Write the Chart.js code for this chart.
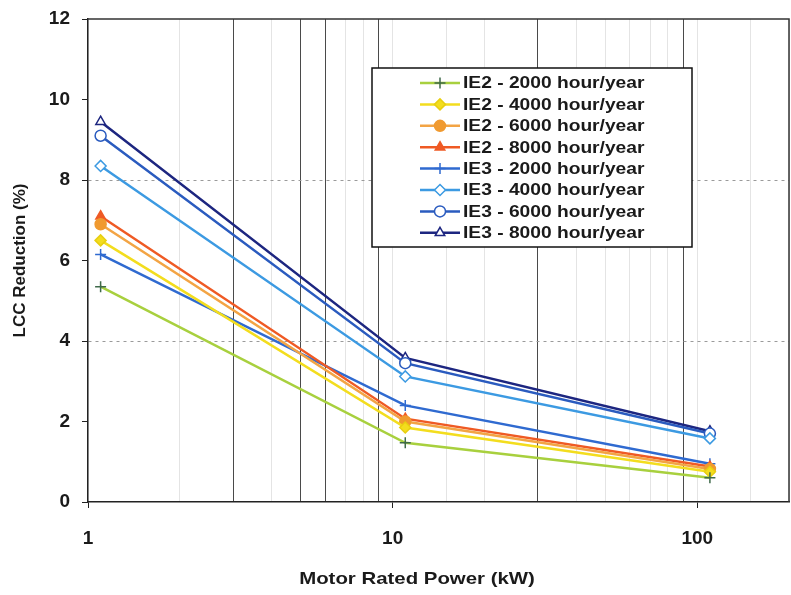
<!DOCTYPE html>
<html lang="en">
<head>
  <meta charset="UTF-8">
  <title>LCC Reduction vs Motor Rated Power</title>
  <style>
    body {
      margin: 0;
      background: #ffffff;
    }
    #chart-box {
      width: 791px;
      height: 595px;
    }
  </style>
  <script src="https://cdn.jsdelivr.net/npm/chart.js"></script>
</head>
<body>
  <div id="chart-box">
    <canvas id="lccChart" width="791" height="595"></canvas>
  </div>
  <script>
    // rated power of the three motor sizes (kW)
    const ratedPower = [1.1, 11, 110];

    const seriesLabels = [
      'IE2 - 2000 hour/year',
      'IE2 - 4000 hour/year',
      'IE2 - 6000 hour/year',
      'IE2 - 8000 hour/year',
      'IE3 - 2000 hour/year',
      'IE3 - 4000 hour/year',
      'IE3 - 6000 hour/year',
      'IE3 - 8000 hour/year'
    ];

    // LCC reduction (%) per motor size
    const ie2_2000 = [5.35, 1.47, 0.6];
    const ie2_4000 = [6.5, 1.85, 0.75];
    const ie2_6000 = [6.9, 2.0, 0.82];
    const ie2_8000 = [7.1, 2.07, 0.88];
    const ie3_2000 = [6.15, 2.4, 0.95];
    const ie3_4000 = [8.35, 3.12, 1.58];
    const ie3_6000 = [9.1, 3.45, 1.7];
    const ie3_8000 = [9.45, 3.58, 1.76];

    const xTickLabels = [1, 10, 100];
    const yTickStep = 2;
    const yDottedLines = [4, 8];
    const xDarkLines = [3, 5, 6, 9, 30, 90];

    const seriesValues = [ie2_2000, ie2_4000, ie2_6000, ie2_8000, ie3_2000, ie3_4000, ie3_6000, ie3_8000];

    // look of each series
    const lineColors = ['#a8d03e', '#f3dd1e', '#f3a444', '#ef5a24', '#2f6ad0', '#3c9ae2', '#2a5bbf', '#1d2680'];
    const markerShapes = ['cross', 'rectRot', 'circle', 'triangle', 'cross', 'rectRot', 'circle', 'triangle'];
    const markerFills = ['#a8d03e', '#f3dd1e', '#f09a30', '#ef5a24', '#2f6ad0', '#ffffff', '#ffffff', '#ffffff'];
    const markerEdges = ['#3f6a4a', '#e8cf10', '#f09a30', '#ef5a24', '#2f6ad0', '#3c9ae2', '#2a5bbf', '#1d2680'];

    const FONT = 'Liberation Sans';
    Chart.defaults.font.family = FONT;

    const datasets = seriesValues.map((vals, i) => ({
      label: seriesLabels[i],
      data: ratedPower.map((p, j) => ({ x: p, y: vals[j] })),
      borderColor: lineColors[i],
      borderWidth: 2.5,
      pointStyle: markerShapes[i],
      pointRadius: 5.5,
      pointBorderWidth: 1.5,
      pointBackgroundColor: markerFills[i],
      pointBorderColor: markerEdges[i],
      tension: 0,
      fill: false
    }));

    // box legend sitting inside the plot, plus frame and x title
    const legendBox = { left: 372, top: 68, right: 692, bottom: 247 };

    const extras = {
      id: 'extras',
      beforeDatasetsDraw(chart) {
        const { ctx, chartArea: a } = chart;
        ctx.save();
        ctx.strokeStyle = '#333';
        ctx.lineWidth = 1.5;
        ctx.beginPath();
        ctx.moveTo(a.left, a.top);
        ctx.lineTo(a.right, a.top);
        ctx.lineTo(a.right, a.bottom);
        ctx.stroke();
        ctx.restore();
      },
      afterDraw(chart) {
        const { ctx } = chart;
        ctx.save();

        ctx.fillStyle = '#fff';
        ctx.fillRect(legendBox.left, legendBox.top, legendBox.right - legendBox.left, legendBox.bottom - legendBox.top);
        ctx.strokeStyle = '#111';
        ctx.lineWidth = 1.5;
        ctx.strokeRect(legendBox.left, legendBox.top, legendBox.right - legendBox.left, legendBox.bottom - legendBox.top);

        chart.data.datasets.forEach((ds, i) => {
          const y = 83 + i * 21.4;
          ctx.strokeStyle = ds.borderColor;
          ctx.lineWidth = 2.5;
          ctx.beginPath();
          ctx.moveTo(420, y);
          ctx.lineTo(460, y);
          ctx.stroke();

          if (Chart.helpers && Chart.helpers.drawPoint) {
            ctx.fillStyle = ds.pointBackgroundColor;
            ctx.strokeStyle = ds.pointBorderColor;
            ctx.lineWidth = 1.5;
            Chart.helpers.drawPoint(ctx, { pointStyle: ds.pointStyle, radius: 5.5, rotation: 0, borderWidth: 1.5 }, 440, y);
          }

          ctx.save();
          ctx.translate(463, y);
          ctx.scale(1.2, 1);
          ctx.fillStyle = '#1a1a1a';
          ctx.font = 'bold 16px "' + FONT + '"';
          ctx.textAlign = 'left';
          ctx.textBaseline = 'middle';
          ctx.fillText(ds.label, 0, 1);
          ctx.restore();
        });

        // x axis title
        ctx.translate(417, 579);
        ctx.scale(1.2, 1);
        ctx.fillStyle = '#1a1a1a';
        ctx.font = 'bold 17px "' + FONT + '"';
        ctx.textAlign = 'center';
        ctx.textBaseline = 'middle';
        ctx.fillText('Motor Rated Power (kW)', 0, 0);
        ctx.restore();
      }
    };

    new Chart(document.getElementById('lccChart'), {
      type: 'line',
      data: { datasets: datasets },
      options: {
        responsive: false,
        animation: false,
        layout: {
          autoPadding: false,
          padding: { top: 19, right: 2, left: 0, bottom: 0 }
        },
        plugins: {
          legend: { display: false },
          tooltip: { enabled: false }
        },
        scales: {
          x: {
            type: 'logarithmic',
            min: 1,
            max: 200,
            afterFit: (s) => {
              s.height = 93;
              s.paddingLeft = 0;
              s.paddingRight = 0;
            },
            ticks: {
              autoSkip: false,
              maxRotation: 0,
              padding: 19,
              color: '#1a1a1a',
              font: { size: 19, weight: 'bold' },
              callback: (v) => xTickLabels.includes(v) ? String(v) : ''
            },
            grid: {
              color: (c) => c.tick && xDarkLines.includes(c.tick.value) ? '#4a4a4a' : '#e4e4e4',
              lineWidth: 1,
              tickLength: 6,
              tickColor: (c) => c.tick && xTickLabels.includes(c.tick.value) ? '#222' : 'transparent'
            },
            border: { color: '#222', width: 1.5 }
          },
          y: {
            min: 0,
            max: 12,
            afterFit: (s) => {
              s.width = 88;
              s.paddingTop = 0;
              s.paddingBottom = 0;
            },
            ticks: {
              stepSize: yTickStep,
              padding: 12,
              color: '#1a1a1a',
              font: { size: 19, weight: 'bold' }
            },
            grid: {
              color: (c) => c.tick && yDottedLines.includes(c.tick.value) ? '#9a9a9a' : 'transparent',
              lineWidth: 1,
              tickLength: 6,
              tickColor: '#222'
            },
            border: { color: '#222', width: 1.5, dash: [3, 4] },
            title: {
              display: true,
              text: 'LCC Reduction (%)',
              color: '#1a1a1a',
              font: { size: 17, weight: 'bold' },
              padding: { top: 10, bottom: 0 }
            }
          }
        }
      },
      plugins: [extras]
    });
  </script>
</body>
</html>
